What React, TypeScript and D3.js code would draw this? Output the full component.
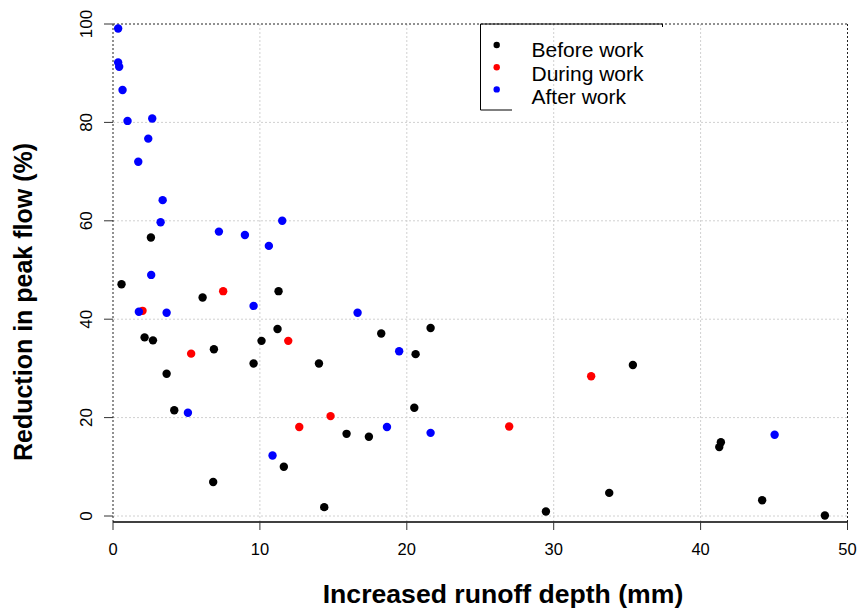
import * as d3 from 'd3';

// runoff depth (mm) / reduction in peak flow (%)
const beforeX = [0.58, 2.58, 6.1, 11.27, 2.15, 2.72, 6.87, 10.11, 11.2, 9.57, 14.02, 3.65, 4.17, 15.9, 11.63, 6.82, 14.38, 18.26, 21.62, 20.6, 20.51, 17.42, 35.39, 41.38, 41.27, 33.78, 29.47, 44.19, 48.46];
const beforeY = [47.1, 56.6, 44.4, 45.7, 36.3, 35.7, 33.9, 35.6, 38.0, 31.0, 31.0, 28.9, 21.5, 16.7, 10.0, 6.9, 1.8, 37.1, 38.2, 32.9, 22.0, 16.1, 30.7, 15.0, 14.0, 4.7, 0.9, 3.2, 0.1];

const duringX = [7.5, 2.01, 5.32, 11.93, 14.81, 12.68, 26.97, 32.55];
const duringY = [45.7, 41.7, 33.0, 35.6, 20.3, 18.1, 18.2, 28.4];

const afterX = [0.35, 0.35, 0.42, 0.65, 0.99, 2.67, 2.4, 1.72, 3.38, 3.24, 11.52, 7.21, 8.98, 10.61, 2.6, 1.76, 3.65, 9.57, 5.1, 10.86, 16.65, 19.48, 18.65, 21.62, 45.04];
const afterY = [99.1, 92.2, 91.3, 86.6, 80.3, 80.8, 76.7, 72.0, 64.2, 59.7, 60.0, 57.8, 57.1, 54.9, 49.0, 41.5, 41.3, 42.7, 21.0, 12.3, 41.3, 33.5, 18.1, 16.9, 16.5];

const xTicks = [0, 10, 20, 30, 40, 50];
const yTicks = [0, 20, 40, 60, 80, 100];
const legendLabels = ['Before work', 'During work', 'After work'];
const colors = ['#000000', '#ff0000', '#0000ff'];

const W = 862;
const H = 614;
const font = 'Liberation Sans, Arial, sans-serif';

export default function App() {
  const x = d3.scaleLinear().domain([0, 50]).range([113, 847.5]);
  const y = d3.scaleLinear().domain([0, 100]).range([516, 24]);
  const axisY = 522;

  const series = [
    { xs: beforeX, ys: beforeY, color: colors[0] },
    { xs: duringX, ys: duringY, color: colors[1] },
    { xs: afterX, ys: afterY, color: colors[2] },
  ];

  return (
    <svg width={W} height={H} style={{ position: 'absolute', left: 0, top: 0, background: '#fff' }} fontFamily={font}>
      <rect width={W} height={H} fill="#fff" />
      {/* grid */}
      {xTicks.slice(1, -1).map(t => (
        <line key={'gx' + t} x1={x(t)} x2={x(t)} y1={y(100)} y2={axisY} stroke="#d0d0d0" strokeDasharray="2,2" />
      ))}
      {yTicks.slice(0, -1).map(t => (
        <line key={'gy' + t} x1={x(0)} x2={x(50)} y1={y(t)} y2={y(t)} stroke="#d0d0d0" strokeDasharray="2,2" />
      ))}
      {/* frame */}
      <line x1={x(0)} x2={x(50)} y1={y(100)} y2={y(100)} stroke="#222" strokeDasharray="2,2" />
      <line x1={x(0)} x2={x(0)} y1={y(100)} y2={axisY} stroke="#222" strokeDasharray="2,2" />
      <line x1={x(50)} x2={x(50)} y1={y(100)} y2={axisY} stroke="#222" strokeDasharray="2,2" />
      <line x1={x(0)} x2={x(50)} y1={axisY} y2={axisY} stroke="#000" strokeWidth={1.5} />

      {/* x axis */}
      {xTicks.map(t => (
        <g key={'xt' + t}>
          <line x1={x(t)} x2={x(t)} y1={axisY} y2={axisY + 8} stroke="#333" />
          <text x={x(t)} y={555} textAnchor="middle" fontSize={16.5} fill="#000">{t}</text>
        </g>
      ))}
      {/* y axis */}
      {yTicks.map(t => (
        <g key={'yt' + t}>
          <line x1={104} x2={x(0)} y1={y(t)} y2={y(t)} stroke="#333" />
          <text transform={`translate(92,${y(t)}) rotate(-90)`} textAnchor="middle" fontSize={17} fill="#000">{t}</text>
        </g>
      ))}

      {/* points */}
      {series.map((s, i) => (
        <g key={'s' + i}>
          {s.xs.map((v, j) => (
            <circle key={j} cx={x(v)} cy={y(s.ys[j])} r={4.2} fill={s.color} />
          ))}
        </g>
      ))}

      {/* legend */}
      <g>
        <line x1={480.5} x2={662.5} y1={24} y2={24} stroke="#000" />
        <line x1={662.5} x2={662.5} y1={24} y2={27} stroke="#000" />
        <line x1={480.5} x2={480.5} y1={24} y2={110} stroke="#000" />
        <line x1={480.5} x2={512} y1={110} y2={110} stroke="#000" />
        {legendLabels.map((l, i) => (
          <g key={l}>
            <circle cx={496.7} cy={45 + i * 22.2} r={3.2} fill={colors[i]} />
            <text x={531.5} y={56.7 + i * 23.8} fontSize={21} fill="#000">{l}</text>
          </g>
        ))}
      </g>

      {/* axis titles */}
      <text x={503} y={603} textAnchor="middle" fontSize={26.6} fontWeight="bold" fill="#000">Increased runoff depth (mm)</text>
      <text transform="translate(31.7,302) rotate(-90)" textAnchor="middle" fontSize={25} fontWeight="bold" fill="#000">Reduction in peak flow (%)</text>
    </svg>
  );
}
